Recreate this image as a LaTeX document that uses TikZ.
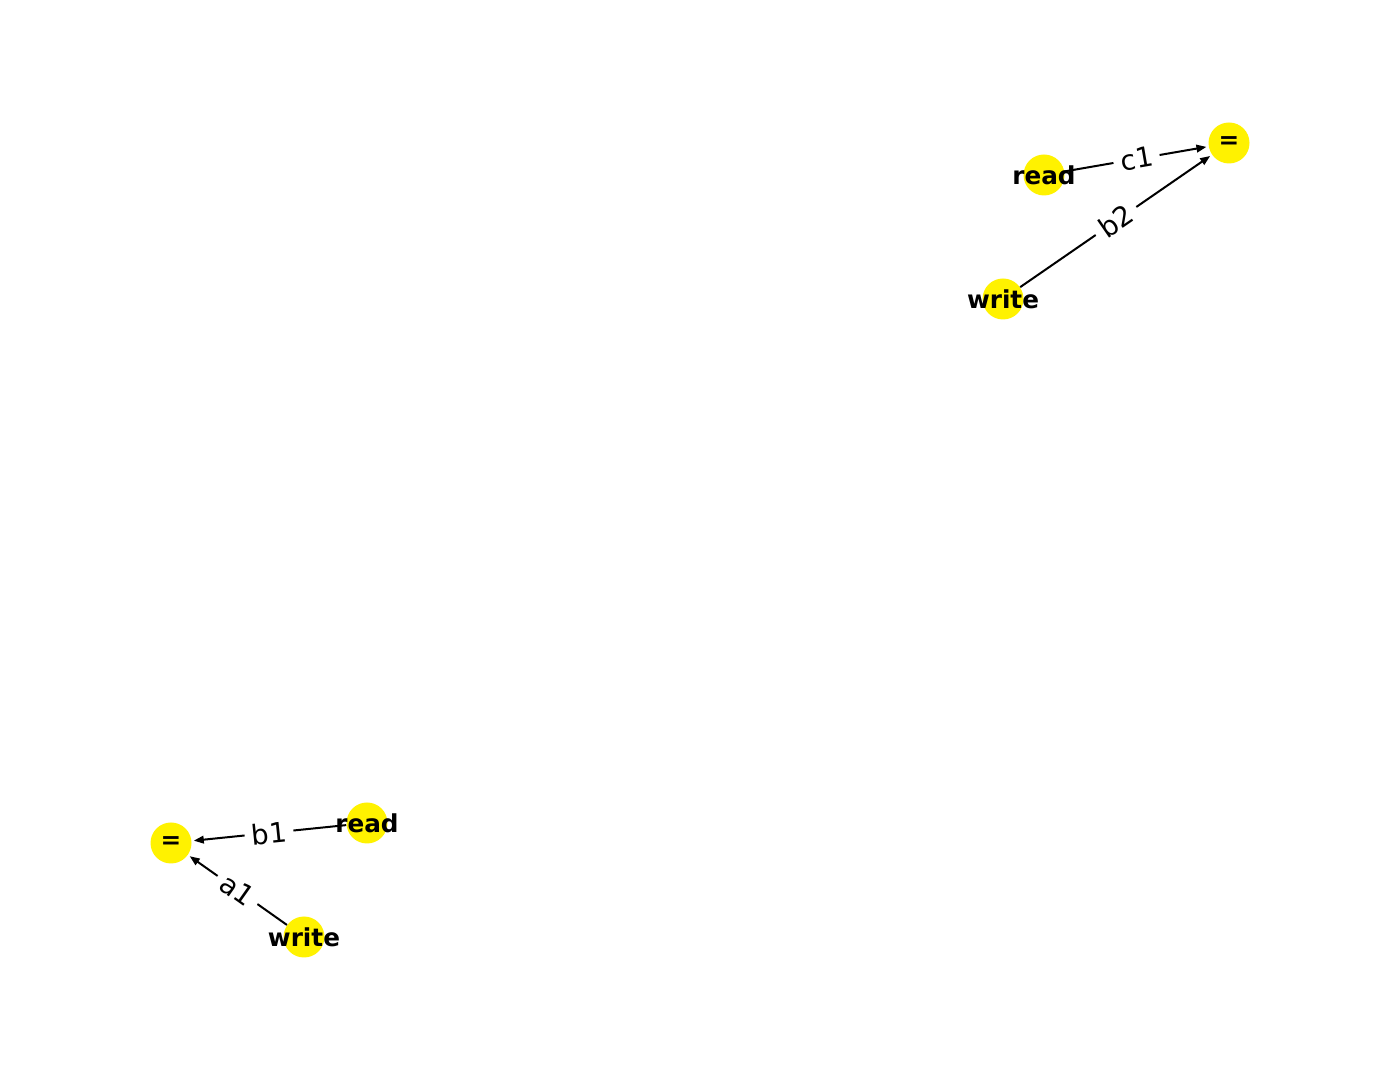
\documentclass[tikz,border=0pt]{standalone}
\usepackage{fontspec}
\setmainfont{DejaVu Sans}
\usetikzlibrary{arrows.meta}
\begin{document}
\begin{tikzpicture}[x=1pt,y=1pt,
  vert/.style={circle, fill=yellow, draw=none, minimum size=20.5pt, inner sep=0pt},
  vlabel/.style={font=\fontsize{12.35}{14}\selectfont\bfseries, inner sep=0pt},
  edge/.style={line width=1pt, -{Triangle[length=5pt,width=3.8pt]}, shorten >=1pt},
  elabel/.style={font=\fontsize{13.8}{16}\selectfont, fill=white, rounded corners=3pt, inner sep=3.5pt, sloped, midway}]
\useasboundingbox (0,0) rectangle (700,540);
% vertices
\node[vert] (eq1) at (614.5,468.5) {};
\node[vert] (read1) at (522,452.5) {};
\node[vert] (write1) at (501.5,390.5) {};
\node[vert] (eq2) at (85.5,118.5) {};
\node[vert] (read2) at (183.5,128.5) {};
\node[vert] (write2) at (152,71.5) {};
% edges
\draw[edge] (read1) -- node[elabel] (lc1) {c1} (eq1);
\draw[edge] (write1) -- node[elabel] (lb2) {b2} (eq1);
\draw[edge] (read2) -- node[elabel] (lb1) {b1} (eq2);
\draw[edge] (write2) -- node[elabel] (la1) {a1} (eq2);
% vertex texts
\node[vlabel] (teq1) at (eq1) {=};
\node[vlabel] (tread1) at (read1) {read};
\node[vlabel] (twrite1) at (write1) {write};
\node[vlabel] (teq2) at (eq2) {=};
\node[vlabel] (tread2) at (read2) {read};
\node[vlabel] (twrite2) at (write2) {write};
\end{tikzpicture}
\end{document}
